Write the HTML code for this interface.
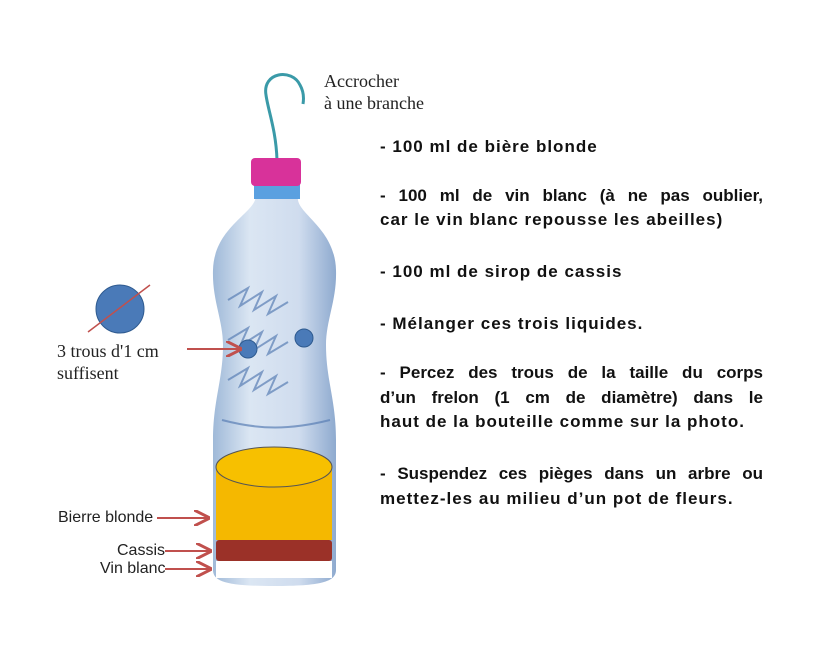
<!DOCTYPE html>
<html><head><meta charset="utf-8"><style>
body{margin:0;width:828px;height:650px;background:#fff;position:relative;overflow:hidden;font-family:"Liberation Sans",sans-serif}
.t{position:absolute;left:380px;width:383px;font-weight:bold;font-size:17px;letter-spacing:1px;color:#111;white-space:nowrap;line-height:20px}
.j{text-align:justify;text-align-last:justify;white-space:normal;letter-spacing:0}
.s{position:absolute;font-family:"Liberation Serif",serif;font-size:18px;color:#222;line-height:22px}
.l{position:absolute;font-size:16px;color:#222}
</style></head><body>
<svg width="828" height="650" style="position:absolute;left:0;top:0">
<defs>
<linearGradient id="g" x1="0" x2="1"><stop offset="0" stop-color="#9fb9d8"/><stop offset=".3" stop-color="#dbe6f3"/><stop offset=".7" stop-color="#cfdcee"/><stop offset="1" stop-color="#8eaacf"/></linearGradient>
<marker id="a" markerWidth="8" markerHeight="8" refX="7" refY="4" orient="auto"><path d="M0,0 L8,4 L0,8" fill="none" stroke="#c0504d" stroke-width="1.5"/></marker>
</defs>
<path d="M277,160 C276,130 268,110 266,95 C262,72 292,68 300,85 C304,92 304,98 303,104" fill="none" stroke="#3a9aa8" stroke-width="3"/>
<path d="M258,190 L296,190 L298,200 C300,215 335,230 336,270 C337,300 326,320 326,345 C326,380 336,400 336,440 L336,570 C336,582 320,586 274,586 C228,586 213,582 213,570 L213,440 C213,400 223,380 223,345 C223,320 212,300 213,270 C214,230 250,215 255,200 Z" fill="url(#g)"/>
<rect x="254" y="183" width="46" height="16" fill="#5aa0e0"/>
<rect x="251" y="158" width="50" height="28" rx="4" fill="#d8329a"/>
<g stroke="#5a7fb5" stroke-width="2" fill="none" opacity=".7">
<path d="M228,300 l20,-12 l-8,18 l22,-14 l-8,18 l22,-14 l-8,18 l20,-12"/>
<path d="M228,340 l20,-12 l-8,18 l22,-14 l-8,18 l22,-14 l-8,18 l20,-12"/>
<path d="M228,380 l20,-12 l-8,18 l22,-14 l-8,18 l22,-14 l-8,18 l20,-12"/>
<path d="M222,420 C260,430 290,430 330,420"/>
</g>
<path d="M216,467 L216,540 L332,540 L332,467 Z" fill="#f5b800"/>
<ellipse cx="274" cy="467" rx="58" ry="20" fill="#f7c000" stroke="#555" stroke-width="1"/>
<rect x="216" y="540" width="116" height="21" rx="3" fill="#9b3128"/>
<rect x="216" y="561" width="116" height="17" fill="#fff"/>
<circle cx="248" cy="349" r="9" fill="#4a7ab8" stroke="#2e5a8f"/>
<circle cx="304" cy="338" r="9" fill="#4a7ab8" stroke="#2e5a8f"/>
<circle cx="120" cy="309" r="24" fill="#4a7ab8" stroke="#2e5a8f"/>
<line x1="88" y1="332" x2="150" y2="285" stroke="#c0504d" stroke-width="1.5"/>
<g stroke="#c0504d" stroke-width="2" marker-end="url(#a)">
<line x1="187" y1="349" x2="240" y2="349"/>
<line x1="157" y1="518" x2="208" y2="518"/>
<line x1="165" y1="551" x2="210" y2="551"/>
<line x1="165" y1="569" x2="210" y2="569"/>
</g>
</svg>
<div class="s" style="left:324px;top:70px">Accrocher<br>à une branche</div>
<div class="s" style="left:57px;top:340px">3 trous d'1 cm<br>suffisent</div>
<div class="l" style="left:58px;top:509px">Bierre blonde</div>
<div class="l" style="left:117px;top:542px">Cassis</div>
<div class="l" style="left:100px;top:560px">Vin blanc</div>
<div class="t" style="top:137px">- 100 ml de bière blonde</div>
<div class="t j" style="top:186px">- 100 ml de vin blanc (à ne pas oublier,</div>
<div class="t" style="top:210px">car le vin blanc repousse les abeilles)</div>
<div class="t" style="top:262px">- 100 ml de sirop de cassis</div>
<div class="t" style="top:314px">- Mélanger ces trois liquides.</div>
<div class="t j" style="top:363px">- Percez des trous de la taille du corps</div>
<div class="t j" style="top:388px">d’un frelon (1 cm de diamètre) dans le</div>
<div class="t" style="top:412px">haut de la bouteille comme sur la photo.</div>
<div class="t j" style="top:464px">- Suspendez ces pièges dans un arbre ou</div>
<div class="t" style="top:489px">mettez-les au milieu d’un pot de fleurs.</div>
</body></html>
